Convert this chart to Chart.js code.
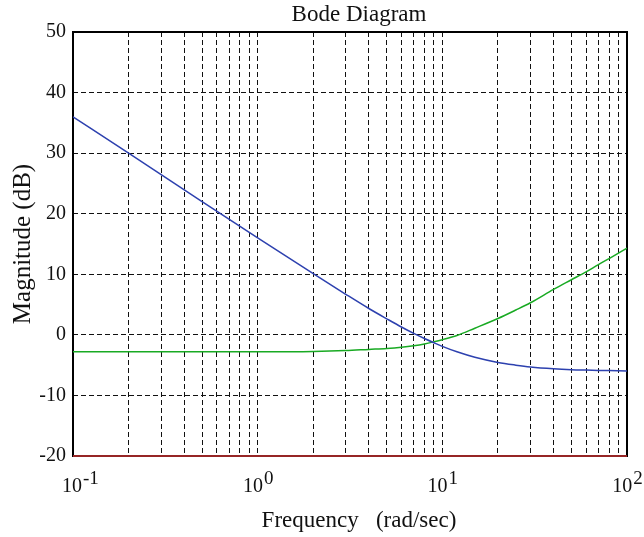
<!DOCTYPE html>
<html>
<head>
<meta charset="utf-8">
<script src="https://cdn.jsdelivr.net/npm/chart.js@4"></script>
<style>
  html, body { margin: 0; padding: 0; background: #fff; }
  #wrap { width: 644px; height: 537px; }
</style>
</head>
<body>
<div id="wrap"><canvas id="bode"></canvas></div>
<script>
// frequencies (rad/sec) the curves were read at
const freqs = [0.1, 0.2, 0.5, 1, 2, 3, 4, 5, 6, 7, 8, 9, 10, 12, 15, 20, 25, 30, 40, 50, 60, 70, 80, 100];
const magBlue = [36, 30, 22, 16, 10.1, 6.7, 4.35, 2.65, 1.3, 0.25, -0.6, -1.3, -1.9, -2.8, -3.7, -4.55, -5.0, -5.3, -5.6, -5.75, -5.82, -5.87, -5.9, -5.95];
const magGreen = [-2.8, -2.8, -2.8, -2.8, -2.75, -2.6, -2.4, -2.25, -2.05, -1.8, -1.5, -1.15, -0.8, -0.1, 1.1, 2.7, 4.1, 5.3, 7.5, 9.1, 10.4, 11.6, 12.6, 14.3];
const magRed = [-20, -20, -20, -20, -20, -20, -20, -20, -20, -20, -20, -20, -20, -20, -20, -20, -20, -20, -20, -20, -20, -20, -20, -20];

const xTicks = [0.1, 0.2, 0.3, 0.4, 0.5, 0.6, 0.7, 0.8, 0.9, 1, 2, 3, 4, 5, 6, 7, 8, 9, 10, 20, 30, 40, 50, 60, 70, 80, 90, 100];
const xMajor = [0.1, 1, 10, 100];
const xExp = ['-1', '0', '1', '2'];

const chartTitle = 'Bode Diagram';
const xTitle = 'Frequency   (rad/sec)';
const yTitle = 'Magnitude (dB)';

const serif = '"Liberation Serif", "Times New Roman", serif';

function pts(ys) {
    return freqs.map((f, i) => ({ x: f, y: ys[i] }));
}

// frame round the plot, drawn under the curves
const framePlugin = {
    id: 'frame',
    beforeDatasetsDraw(chart) {
        const a = chart.chartArea;
        const ctx = chart.ctx;
        ctx.save();
        ctx.strokeStyle = '#000';
        ctx.lineWidth = 2;
        ctx.strokeRect(a.left, a.top, a.right - a.left, a.bottom - a.top);
        ctx.restore();
    }
};

// title, x title and 10^n labels
const textPlugin = {
    id: 'texts',
    afterDraw(chart) {
        const ctx = chart.ctx;
        const a = chart.chartArea;
        const xs = chart.scales.x;
        const cx = (a.left + a.right) / 2 + 9;
        ctx.save();
        ctx.fillStyle = '#111';
        ctx.font = '23px ' + serif;
        ctx.textAlign = 'center';
        ctx.textBaseline = 'alphabetic';
        ctx.fillText(chartTitle, cx, 21);
        ctx.fillText(xTitle, cx, 527);

        ctx.textAlign = 'left';
        xMajor.forEach((v, i) => {
            const px = xs.getPixelForValue(v);
            ctx.font = '20px ' + serif;
            const wb = ctx.measureText('10').width;
            ctx.font = '19px ' + serif;
            const we = ctx.measureText(xExp[i]).width;
            // keep the first label inside the figure like the original
            const x0 = Math.max(px - (wb + we) / 2, 62);
            ctx.font = '20px ' + serif;
            ctx.fillText('10', x0, 492);
            ctx.font = '19px ' + serif;
            ctx.fillText(xExp[i], x0 + wb + 1, 484);
        });
        ctx.restore();
    }
};

const ctx = document.getElementById('bode').getContext('2d');
new Chart(ctx, {
    type: 'line',
    data: {
        datasets: [
            { label: 'blue', data: pts(magBlue), borderColor: 'rgb(45,65,175)', borderWidth: 1.5 },
            { label: 'green', data: pts(magGreen), borderColor: 'rgb(25,170,35)', borderWidth: 1.5 },
            { label: 'red', data: pts(magRed), borderColor: 'rgb(200,50,50)', borderWidth: 1.5, clip: 3 }
        ]
    },
    options: {
        responsive: true,
        maintainAspectRatio: false,
        animation: false,
        devicePixelRatio: 1,
        layout: { padding: { top: 32, right: 17, left: 0, bottom: 0 } },
        elements: {
            point: { radius: 0 },
            line: { cubicInterpolationMode: 'monotone', fill: false }
        },
        plugins: {
            legend: { display: false },
            tooltip: { enabled: false }
        },
        scales: {
            x: {
                type: 'logarithmic',
                min: 0.1,
                max: 100,
                afterBuildTicks(scale) {
                    scale.ticks = xTicks.map(v => ({ value: v }));
                },
                afterFit(scale) { scale.height = 81; },
                ticks: { display: false },
                grid: { color: '#111', lineWidth: 1, drawTicks: false },
                border: { display: false, dash: [5, 3] }
            },
            y: {
                min: -20,
                max: 50,
                afterFit(scale) { scale.width = 73; },
                ticks: {
                    stepSize: 10,
                    color: '#111',
                    padding: 7,
                    font: { family: serif, size: 20 }
                },
                title: {
                    display: true,
                    text: yTitle,
                    color: '#111',
                    font: { family: serif, size: 25 },
                    padding: { top: 8, bottom: 0 }
                },
                grid: { color: '#111', lineWidth: 1, drawTicks: false },
                border: { display: false, dash: [5, 3] }
            }
        }
    },
    plugins: [framePlugin, textPlugin]
});
</script>
</body>
</html>
